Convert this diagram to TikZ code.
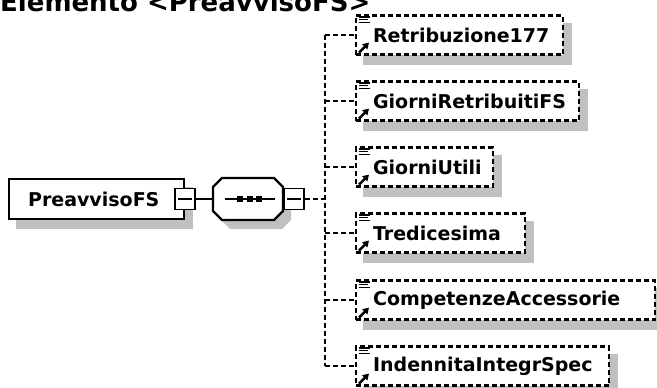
\documentclass[tikz,border=0pt]{standalone}
\usepackage{fontspec}
\setmainfont{DejaVu Sans}
\usetikzlibrary{arrows.meta}
\pgfdeclarelayer{bg}
\pgfsetlayers{bg,main}
\definecolor{shade}{RGB}{192,192,192}
\newcommand\elfont{\fontsize{19}{22}\selectfont\bfseries}
\newcommand\ttlfont{\fontsize{26}{30}\selectfont\bfseries}
\tikzset{
  conn/.style={line width=2.2pt, dash pattern=on 5pt off 3pt},
  solidconn/.style={line width=2.2pt},
  elem/.style={draw, line width=2.2pt, dash pattern=on 5pt off 3pt, fill=white, anchor=west,
    minimum height=39pt, inner xsep=0pt, inner ysep=0pt, align=left, font=\elfont},
  mainbox/.style={draw, line width=2.2pt, fill=white, anchor=west, minimum height=40pt,
    text width=175pt, inner xsep=0pt, inner ysep=0pt, align=left, font=\elfont},
  minusbox/.style={draw, line width=1.8pt, fill=white, minimum width=20pt, minimum height=21pt, inner sep=0pt},
  seqbox/.style={minimum width=70pt, minimum height=42pt, inner sep=0pt},
  shadowfill/.style={fill=shade},
  icon/.style={line width=1.2pt},
  iconarrow/.style={line width=2.4pt, -{Triangle[length=6pt,width=7pt]}},
}
\newcommand\octpath[2]{(222+#1,178+#2) -- (274+#1,178+#2) -- (283+#1,187+#2) -- (283+#1,211+#2) -- (274+#1,220+#2) -- (222+#1,220+#2) -- (213+#1,211+#2) -- (213+#1,187+#2) -- cycle}
\begin{document}
\begin{tikzpicture}[x=1pt,y=-1pt]
\useasboundingbox (0,0) rectangle (657,388);

% title
\node[anchor=base west, inner sep=0pt, font=\ttlfont] (title) at (0,12) {Elemento <PreavvisoFS>};

% main element
\node[mainbox] (main) at (8,199) {\hspace*{19pt}PreavvisoFS};
\node[minusbox] (m1) at (main.east) {};
\draw[line width=1.8pt] ([xshift=4pt]m1.west) -- ([xshift=-4pt]m1.east);

% sequence compositor
\begin{pgfonlayer}{bg}
  \fill[shadowfill] \octpath{8}{9};
\end{pgfonlayer}
\node[seqbox] (seq) at (248,199) {};
\draw[line width=2.2pt, fill=white] \octpath{0}{0};
\draw[line width=2.2pt] (225,199) -- (275,199);
\foreach \cx in {240,249.5,259}
  \fill (\cx-3,196) rectangle (\cx+3,202);
\node[minusbox, anchor=west] (m2) at (seq.east) {};
\draw[line width=1.8pt] ([xshift=4pt]m2.west) -- ([xshift=-4pt]m2.east);

% children
\node[elem, text width=207pt] (c1) at (355,35)  {\hspace*{17pt}Retribuzione177};
\node[elem, text width=223pt] (c2) at (355,101) {\hspace*{17pt}GiorniRetribuitiFS};
\node[elem, text width=137pt] (c3) at (355,167) {\hspace*{17pt}GiorniUtili};
\node[elem, text width=169pt] (c4) at (355,233) {\hspace*{17pt}Tredicesima};
\node[elem, text width=299pt] (c5) at (355,300) {\hspace*{17pt}CompetenzeAccessorie};
\node[elem, text width=253pt] (c6) at (355,366) {\hspace*{17pt}IndennitaIntegrSpec};

% shadows of boxes
\begin{pgfonlayer}{bg}
  \foreach \n in {main,c1,c2,c3,c4,c5,c6}
    \fill[shadowfill] ([shift={(8,9)}]\n.north west) rectangle ([shift={(8,9)}]\n.south east);
\end{pgfonlayer}

% icons
\foreach \n in {c1,c2,c3,c4,c5,c6}{
  \draw[icon] ([shift={(4,2.5)}]\n.north west) -- ++(11,0);
  \draw[icon] ([shift={(4,5.2)}]\n.north west) -- ++(9,0);
  \draw[icon] ([shift={(4,7.9)}]\n.north west) -- ++(11,0);
  \draw[iconarrow] ([shift={(4,-3)}]\n.south west) -- ++(10,-10);
}

% connectors
\draw[solidconn] (m1.east) -- (seq.west);
\coordinate (vm) at (325,199);
\draw[conn] (m2.east) -- (vm);
\coordinate (v1) at (325,35);
\coordinate (v2) at (325,101);
\coordinate (v3) at (325,167);
\coordinate (v4) at (325,233);
\coordinate (v5) at (325,300);
\coordinate (v6) at (325,366);
\draw[conn] (v1) -- (v6);
\foreach \i in {1,...,6}
  \draw[conn] (v\i) -- (c\i.west);
\end{tikzpicture}
\end{document}
